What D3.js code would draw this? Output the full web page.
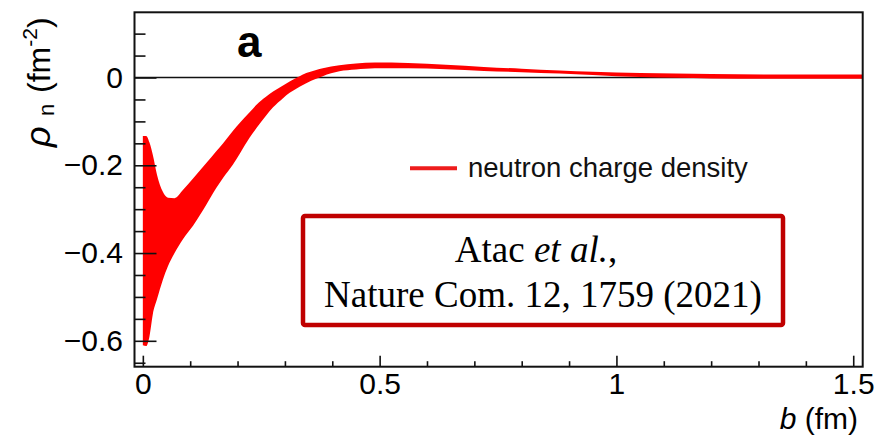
<!DOCTYPE html>
<html>
<head>
<meta charset="utf-8">
<script src="https://cdn.jsdelivr.net/npm/d3@7"></script>
<style>
  html, body { margin: 0; padding: 0; background: #fff; }
  svg { display: block; }
</style>
</head>
<body>
<svg id="chart" width="875" height="438"></svg>
<script>
// impact parameter b (fm)
var bValues = [0, 0.007, 0.014, 0.021, 0.03, 0.042, 0.053, 0.067, 0.085, 0.106, 0.134, 0.155, 0.17, 0.19,
  0.205, 0.225, 0.24, 0.26, 0.275, 0.296, 0.31, 0.331, 0.345, 0.366, 0.38, 0.415, 0.45, 0.49, 0.56,
  0.64, 0.72, 0.8, 0.88, 0.95, 1.05, 1.2, 1.35, 1.52];

// upper / lower edge of the uncertainty band (fm^-2)
var rhoUpper = [-0.133, -0.133, -0.148, -0.176, -0.222, -0.260, -0.274, -0.275, -0.256, -0.230, -0.195, -0.168, -0.149, -0.122,
  -0.103, -0.080, -0.062, -0.044, -0.032, -0.018, -0.009, 0.003, 0.010, 0.017, 0.021, 0.028, 0.032, 0.034, 0.033,
  0.029, 0.024, 0.020, 0.016, 0.013, 0.010, 0.008, 0.007, 0.007];
var rhoLower = [-0.610, -0.612, -0.590, -0.540, -0.505, -0.462, -0.430, -0.400, -0.368, -0.338, -0.290, -0.252, -0.228, -0.199,
  -0.173, -0.138, -0.115, -0.087, -0.068, -0.047, -0.035, -0.021, -0.013, -0.003, 0.003, 0.014, 0.018, 0.021, 0.021,
  0.019, 0.015, 0.012, 0.009, 0.006, 0.001, -0.002, -0.003, -0.003];

// ticks
var xMajor = [0, 0.5, 1, 1.5];
var xMinor = [0.1, 0.2, 0.3, 0.4, 0.6, 0.7, 0.8, 0.9, 1.1, 1.2, 1.3, 1.4];
var yMajor = [-0.6, -0.4, -0.2, 0];
var yMinor = [-0.65, -0.55, -0.5, -0.45, -0.35, -0.3, -0.25, -0.15, -0.1, -0.05, 0.05, 0.1];

var legendLabel = "neutron charge density";
var refLines = ["Atac ", "et al.", ",", "Nature Com. 12, 1759 (2021)"];

/////////////////// layout ///////////////////
var plotL = 134.5, plotR = 862.7, plotT = 12.3, plotB = 366.7;
var sans = "'Liberation Sans', Arial, Helvetica, sans-serif";

var svg = d3.select("#chart");

var x = d3.scaleLinear().domain([-0.0176, 1.52]).range([plotL, plotR]);
var y = d3.scaleLinear().domain([-0.659, 0.1486]).range([plotB, plotT]);

var band = bValues.map(function(b, i) { return {b: b, lo: rhoLower[i], hi: rhoUpper[i]}; });

svg.append("clipPath").attr("id", "plotclip")
  .append("rect")
  .attr("x", plotL).attr("y", plotT)
  .attr("width", plotR - plotL).attr("height", plotB - plotT);

// zero line
svg.append("line")
  .attr("x1", plotL).attr("x2", plotR)
  .attr("y1", y(0)).attr("y2", y(0))
  .attr("stroke", "#111")
  .attr("stroke-width", 1.4);

// band
var area = d3.area()
  .x(function(d) { return x(d.b); })
  .y0(function(d) { return y(d.lo); })
  .y1(function(d) { return y(d.hi); })
  .curve(d3.curveMonotoneX);

svg.append("path")
  .datum(band)
  .attr("clip-path", "url(#plotclip)")
  .attr("d", area)
  .attr("fill", "#ff0000");

// axes (ticks point inward like ROOT)
var fmt = d3.format("~g");

svg.append("g").attr("transform", "translate(0," + plotB + ")")
  .call(d3.axisBottom(x).tickValues(xMajor).tickSize(-11).tickPadding(5.7).tickFormat(fmt));
svg.append("g").attr("transform", "translate(0," + plotB + ")")
  .call(d3.axisBottom(x).tickValues(xMinor).tickSize(-5.5).tickFormat(""));

svg.append("g").attr("transform", "translate(" + plotL + ",0)")
  .call(d3.axisLeft(y).tickValues(yMajor).tickSize(-22).tickPadding(11.5).tickFormat(fmt));
svg.append("g").attr("transform", "translate(" + plotL + ",0)")
  .call(d3.axisLeft(y).tickValues(yMinor).tickSize(-11).tickFormat(""));

svg.selectAll(".domain").remove();
svg.selectAll(".tick line").attr("stroke", "#111").attr("stroke-width", 1.6);
svg.selectAll(".tick text")
  .attr("fill", "#000")
  .style("font-family", sans)
  .style("font-size", "30px");

// frame
svg.append("rect")
  .attr("x", plotL).attr("y", plotT)
  .attr("width", plotR - plotL).attr("height", plotB - plotT)
  .attr("fill", "none")
  .attr("stroke", "#111")
  .attr("stroke-width", 2);

// x title
var xt = svg.append("text")
  .attr("x", 858).attr("y", 429)
  .attr("text-anchor", "end")
  .style("font-family", sans)
  .style("font-size", "30px");
xt.append("tspan").style("font-style", "italic").text("b");
xt.append("tspan").text(" (fm)");

// y title, rotated
var yt = svg.append("text")
  .attr("transform", "translate(50,147) rotate(-90)")
  .style("font-family", sans)
  .style("font-size", "32px");
yt.append("tspan").attr("x", 0).style("font-style", "italic").style("font-size", "36px").text("ρ");
yt.append("tspan").attr("x", 31).attr("dy", 4).style("font-size", "22px").text("n");
yt.append("tspan").attr("x", 54).attr("dy", -4).text("(fm");
yt.append("tspan").attr("dy", -13).style("font-size", "21px").text("-2");
yt.append("tspan").attr("dy", 13).text(")");

// panel label
svg.append("text")
  .attr("x", 237).attr("y", 56.5)
  .style("font-family", sans)
  .style("font-weight", "700")
  .style("font-size", "44px")
  .text("a");

// legend
svg.append("line")
  .attr("x1", 410).attr("x2", 457)
  .attr("y1", 168.3).attr("y2", 168.3)
  .attr("stroke", "#ee1c1c")
  .attr("stroke-width", 4);
svg.append("text")
  .attr("x", 468).attr("y", 177)
  .style("font-family", sans)
  .style("font-size", "27.5px")
  .attr("fill", "#111")
  .text(legendLabel);

// reference box
svg.append("rect")
  .attr("x", 303).attr("y", 216)
  .attr("width", 480).attr("height", 109)
  .attr("fill", "#fff")
  .attr("stroke", "#c00000")
  .attr("stroke-width", 4.5)
  .attr("rx", 2);

var serif = "'Liberation Serif', 'Times New Roman', serif";
var r1 = svg.append("text")
  .attr("x", 536).attr("y", 262)
  .attr("text-anchor", "middle")
  .style("font-family", serif)
  .style("font-size", "37px");
r1.append("tspan").text(refLines[0]);
r1.append("tspan").style("font-style", "italic").text(refLines[1]);
r1.append("tspan").text(refLines[2]);

svg.append("text")
  .attr("x", 543).attr("y", 307)
  .attr("text-anchor", "middle")
  .style("font-family", serif)
  .style("font-size", "37px")
  .text(refLines[3]);
</script>
</body>
</html>
